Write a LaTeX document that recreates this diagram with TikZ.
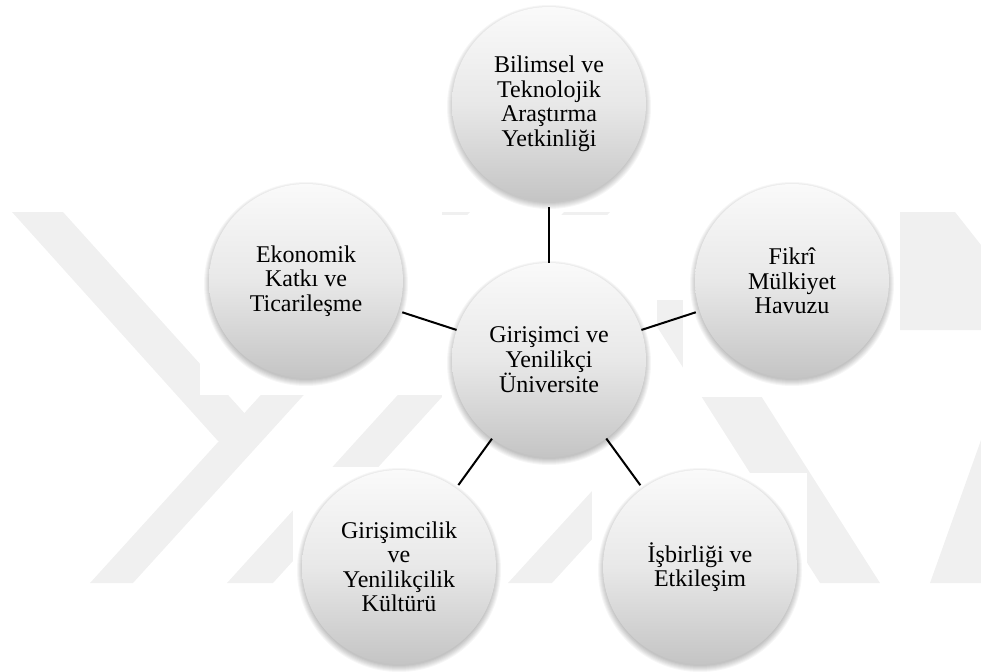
\documentclass[tikz,border=0pt]{standalone}
\usepackage{fontspec}
\setmainfont{Liberation Serif}
\definecolor{wmgray}{gray}{0.94}
\pgfdeclareverticalshading{ballshade}{100bp}{color(0bp)=(black!23); color(25bp)=(black!23); color(50bp)=(black!9); color(75bp)=(black!2); color(100bp)=(black!2)}
\begin{document}
\begin{tikzpicture}[x=1pt,y=-1pt,
  ball/.style={circle, minimum size=194pt, inner sep=0pt, shading=ballshade,
    align=center, font=\fontsize{24}{24.5}\selectfont},
  link/.style={line width=2pt, black},
  wm/.style={fill=wmgray},
  blank/.style={fill=white}]
\useasboundingbox (0,0) rectangle (981,671);

% faint background mark
\fill[wm] (12,212) -- (63,212) -- (266,437) -- (218,441) -- cycle;
\fill[wm] (90,583) -- (133,583) -- (470,212) -- (427,212) -- cycle;
\fill[wm] (227,583) -- (273,583) -- (610,212) -- (564,212) -- cycle;
\fill[wm] (508,583) -- (552,583) -- (657,468) -- (613,468) -- cycle;
\fill[wm] (640,300) -- (700,300) -- (880,583) -- (820,583) -- cycle;
\fill[wm] (900,212) -- (955,212) -- (981,245) -- (981,330) -- (900,330) -- cycle;
\fill[wm] (930,583) -- (981,583) -- (981,440) -- cycle;
\fill[blank] (200,150) rectangle (442,395);
\fill[blank] (442,215) rectangle (657,473);
\fill[blank] (293,467) rectangle (508,671);
\fill[blank] (592,473) rectangle (807,671);
\fill[blank] (683,150) rectangle (900,397);

% circle centres
\coordinate (pc) at (549,360);
\coordinate (pt) at (549,104);
\coordinate (pl) at (306,281);
\coordinate (pr) at (792,281);
\coordinate (pbl) at (399,567);
\coordinate (pbr) at (700,567);

% soft shadows
\foreach \p in {pc,pt,pl,pr,pbl,pbr}{
  \foreach \k in {0,1,...,6}{
    \fill[black, opacity=0.035] ([yshift=-3pt]\p) circle ({96+\k});
  }
}

\node[ball] (c) at (pc) {Girişimci ve\\Yenilikçi\\Üniversite};
\node[ball] (t) at (pt) {Bilimsel ve\\Teknolojik\\Araştırma\\Yetkinliği};
\node[ball] (l) at (pl) {Ekonomik\\Katkı ve\\Ticarileşme};
\node[ball] (r) at (pr) {Fikrî\\Mülkiyet\\Havuzu};
\node[ball] (bl) at (pbl) {Girişimcilik\\ve\\Yenilikçilik\\Kültürü};
\node[ball] (br) at (pbr) {İşbirliği ve\\Etkileşim};

\draw[link, shorten >=6pt] (c) -- (t);
\draw[link, shorten >=4pt] (c) -- (l);
\draw[link, shorten >=4pt] (c) -- (r);
\draw[link, shorten >=4pt] (c) -- (bl);
\draw[link, shorten >=4pt] (c) -- (br);
\end{tikzpicture}
\end{document}
